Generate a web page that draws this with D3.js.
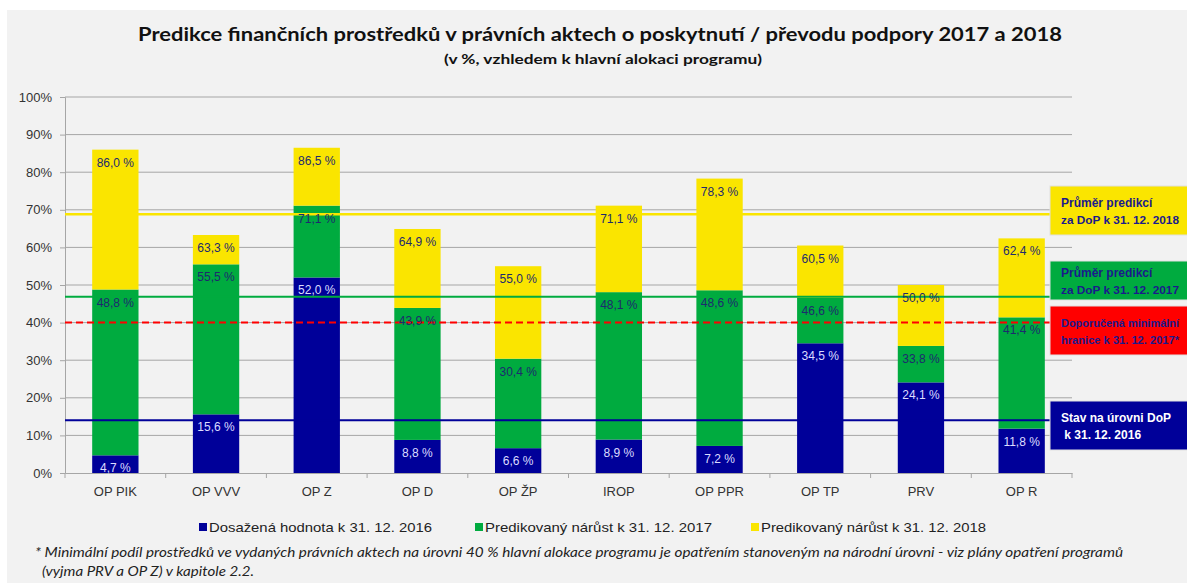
<!DOCTYPE html>
<html>
<head>
<meta charset="utf-8">
<script src="https://cdn.jsdelivr.net/npm/d3@7"></script>
<style>
  body { margin: 0; background: #ffffff; }
  svg { display: block; }
  text { font-family: "Liberation Sans", Arial, sans-serif; }
</style>
</head>
<body>
<svg id="chart"></svg>
<script>
// data (cumulative % of programme allocation, as labelled in the chart)
const categories = ['OP PIK', 'OP VVV', 'OP Z', 'OP D', 'OP ŽP', 'IROP', 'OP PPR', 'OP TP', 'PRV', 'OP R'];
const achieved2016 = [4.7, 15.6, 52.0, 8.8, 6.6, 8.9, 7.2, 34.5, 24.1, 11.8];
const predicted2017 = [48.8, 55.5, 71.1, 43.9, 30.4, 48.1, 48.6, 46.6, 33.8, 41.4];
const predicted2018 = [86.0, 63.3, 86.5, 64.9, 55.0, 71.1, 78.3, 60.5, 50.0, 62.4];
const yTicks = [0, 10, 20, 30, 40, 50, 60, 70, 80, 90, 100];
const seriesNames = ['Dosažená hodnota k 31. 12. 2016', 'Predikovaný nárůst k 31. 12. 2017', 'Predikovaný nárůst k 31. 12. 2018'];
const refLabels = [
    ['Průměr predikcí', 'za DoP k 31. 12. 2018'],
    ['Průměr predikcí', 'za DoP k 31. 12. 2017'],
    ['Doporučená minimální', 'hranice k 31. 12. 2017*'],
    ['Stav na úrovni DoP', ' k 31. 12. 2016']
];
const refValues = [68.8, 46.9, 40, 14.0];

const colors = ['#000099', '#00ab3f', '#fae500'];
const refColors = ['#fae500', '#00ab3f', '#ff0000', '#000099'];

const W = 1187, H = 583;
const margin = {top: 97, left: 65, right: 115, bottom: 110};
const innerW = W - margin.left - margin.right;
const innerH = H - margin.top - margin.bottom;

const svg = d3.select('#chart').attr('width', W).attr('height', H);

// grey chart area
svg.append('rect').attr('x', 7).attr('y', 10).attr('width', W - 7).attr('height', H - 10).attr('fill', '#f2f2f2');

svg.append('text')
    .attr('x', 600).attr('y', 41)
    .attr('text-anchor', 'middle')
    .style('font-family', 'Lato, "Open Sans", sans-serif')
    .style('font-weight', 'bold').style('font-size', '18.5px')
    .attr('fill', '#111')
    .attr('textLength', 924).attr('lengthAdjust', 'spacingAndGlyphs')
    .text('Predikce finančních  prostředků  v právních aktech o poskytnutí  / převodu podpory  2017 a 2018');

svg.append('text')
    .attr('x', 603).attr('y', 64)
    .attr('text-anchor', 'middle')
    .style('font-family', 'Lato, "Open Sans", sans-serif')
    .style('font-weight', 'bold').style('font-size', '12.5px')
    .attr('fill', '#111')
    .attr('textLength', 318).attr('lengthAdjust', 'spacingAndGlyphs')
    .text('(v %, vzhledem k hlavní alokaci programu)');

const chart = svg.append('g').attr('transform', `translate(${margin.left},${margin.top})`);

const x = d3.scaleBand().domain(categories).range([0, innerW]).paddingInner(0.54).paddingOuter(0.27);
const y = d3.scaleLinear().domain([0, 100]).range([innerH, 0]);

// gridlines
chart.append('g')
    .selectAll('line')
    .data(yTicks.filter(d => d > 0))
    .join('line')
    .attr('x1', 0).attr('x2', innerW)
    .attr('y1', d => y(d)).attr('y2', d => y(d))
    .attr('stroke', '#a6a6a6').attr('stroke-width', 1);

// axes
const yAxis = chart.append('g')
    .call(d3.axisLeft(y).tickValues(yTicks).tickSize(5).tickPadding(8).tickFormat(d => d + '%'));
const xAxis = chart.append('g')
    .attr('transform', `translate(0,${innerH})`)
    .call(d3.axisBottom(x).tickSize(0).tickPadding(14));
[yAxis, xAxis].forEach(g => {
    g.select('.domain').attr('stroke', '#a6a6a6');
    g.selectAll('.tick line').attr('stroke', '#a6a6a6');
    g.selectAll('text').style('font-size', '13px').attr('fill', '#333');
});
// category boundary ticks
const step = x.step();
xAxis.append('g').selectAll('line')
    .data(d3.range(categories.length + 1))
    .join('line')
    .attr('x1', i => x(categories[0]) - step * x.paddingOuter() + i * step)
    .attr('x2', i => x(categories[0]) - step * x.paddingOuter() + i * step)
    .attr('y1', 0).attr('y2', 5)
    .attr('stroke', '#a6a6a6');

// stacked bars
const rows = categories.map((c, i) => ({
    cat: c,
    s0: achieved2016[i],
    s1: predicted2017[i] - achieved2016[i],
    s2: predicted2018[i] - predicted2017[i]
}));
const stacked = d3.stack().keys(['s0', 's1', 's2'])(rows);

chart.selectAll('g.series')
    .data(stacked)
    .join('g')
    .attr('class', 'series')
    .attr('fill', (d, i) => colors[i])
    .selectAll('rect')
    .data(d => d)
    .join('rect')
    .attr('x', d => x(d.data.cat))
    .attr('width', x.bandwidth())
    .attr('y', d => y(d[1]))
    .attr('height', d => y(d[0]) - y(d[1]));

// reference lines
const boxX = 1050 - margin.left;
chart.selectAll('line.ref')
    .data(refValues)
    .join('line')
    .attr('class', 'ref')
    .attr('x1', 0).attr('x2', boxX)
    .attr('y1', d => y(d)).attr('y2', d => y(d))
    .attr('stroke', (d, i) => refColors[i])
    .attr('stroke-width', (d, i) => i === 0 ? 2.5 : 2)
    .attr('stroke-dasharray', (d, i) => i === 2 ? '7,4' : null);

// value labels
const labelData = [];
stacked.forEach((s, si) => s.forEach(d => labelData.push({si, cat: d.data.cat, top: d[1]})));
chart.selectAll('text.val')
    .data(labelData)
    .join('text')
    .attr('class', 'val')
    .attr('x', d => x(d.cat) + x.bandwidth() / 2)
    .attr('y', d => y(d.top) + 17)
    .attr('text-anchor', 'middle')
    .style('font-size', '12px')
    .attr('fill', d => d.si === 0 ? '#dcdcff' : '#1d2a6e')
    .text(d => d3.format('.1f')(d.top).replace('.', ',') + ' %');

// reference line boxes
const boxTops = [186, 261, 306, 401];
const boxHeights = [49, 39, 49, 49];
const boxes = svg.selectAll('g.refbox')
    .data(refLabels)
    .join('g')
    .attr('class', 'refbox')
    .attr('transform', (d, i) => `translate(1050,${boxTops[i]})`);
boxes.append('rect')
    .attr('width', 160)
    .attr('height', (d, i) => boxHeights[i])
    .attr('fill', (d, i) => refColors[i])
    .attr('stroke', '#e0e0e0');
boxes.each(function(d, i) {
    const g = d3.select(this);
    const h = boxHeights[i];
    const mid = h / 2;
    d.forEach((line, li) => {
        const t = g.append('text')
            .attr('x', 11)
            .attr('y', mid + (li === 0 ? -4 : 13))
            .style('font-weight', 'bold').style('font-size', '12px')
            .style('white-space', 'pre')
            .attr('fill', i === 3 ? '#ffffff' : '#1a1a8c')
            .text(line);
        // keep long lines inside the window
        if (t.node().getComputedTextLength() > 118) {
            t.style('font-size', '11px').attr('textLength', 118).attr('lengthAdjust', 'spacingAndGlyphs');
        }
    });
});

// legend
const legendX = [199, 475, 751];
const legendLen = [223, 227, 225];
const legend = svg.selectAll('g.legend')
    .data(seriesNames)
    .join('g')
    .attr('class', 'legend')
    .attr('transform', (d, i) => `translate(${legendX[i]},527)`);
legend.append('rect')
    .attr('x', 0).attr('y', -4).attr('width', 8).attr('height', 8)
    .attr('fill', (d, i) => colors[i]);
legend.append('text')
    .attr('x', 10).attr('y', 5)
    .style('font-size', '13px')
    .attr('fill', '#222')
    .attr('textLength', (d, i) => legendLen[i]).attr('lengthAdjust', 'spacingAndGlyphs')
    .text(d => d);

// footnote
svg.append('text')
    .attr('x', 35).attr('y', 557)
    .style('font-family', 'Lato, "Open Sans", sans-serif')
    .style('font-style', 'italic').style('font-size', '13.5px')
    .attr('fill', '#222')
    .attr('textLength', 1088).attr('lengthAdjust', 'spacingAndGlyphs')
    .text('* Minimální podíl prostředků ve vydaných právních aktech na úrovni 40 % hlavní alokace programu je opatřením stanoveným  na národní úrovni - viz plány opatření programů');
svg.append('text')
    .attr('x', 42).attr('y', 576)
    .style('font-family', 'Lato, "Open Sans", sans-serif')
    .style('font-style', 'italic').style('font-size', '13.5px')
    .attr('fill', '#222')
    .attr('textLength', 212).attr('lengthAdjust', 'spacingAndGlyphs')
    .text('(vyjma  PRV a OP Z) v kapitole 2.2.');
</script>
</body>
</html>
